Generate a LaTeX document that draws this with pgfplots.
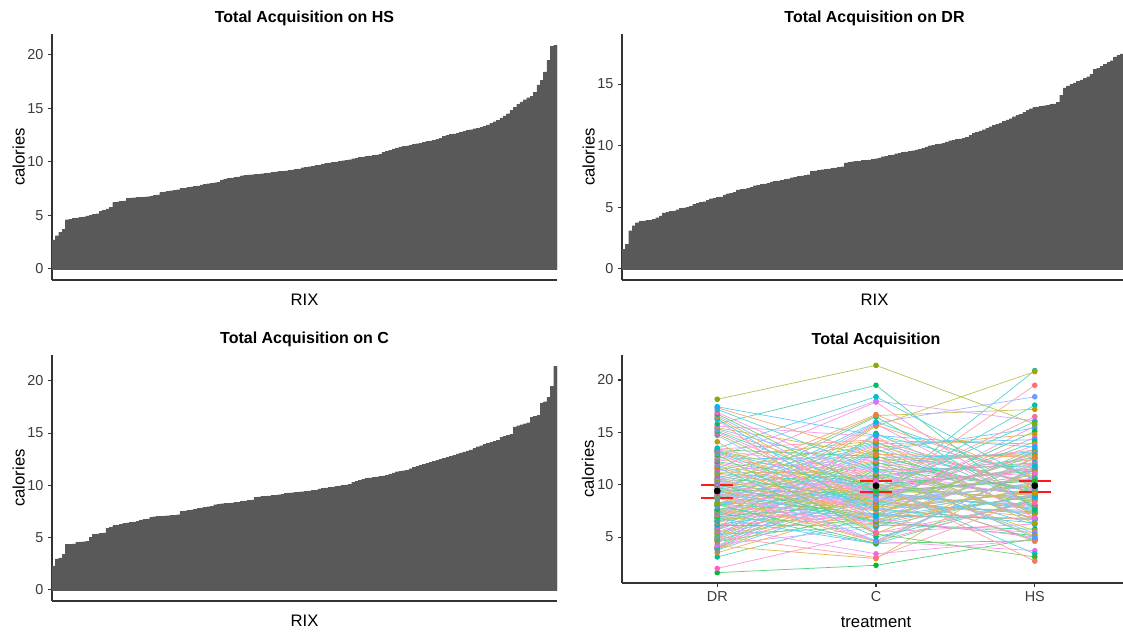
\documentclass[border=0pt]{standalone}
\usepackage{fontspec}
\setmainfont{Liberation Sans}
\usepackage{pgfplots}
\usepackage{pgfplotstable}
\pgfplotsset{compat=1.18}
\definecolor{barfill}{HTML}{595959}
\definecolor{tickgray}{HTML}{3A3A3A}
\definecolor{axgray}{HTML}{333333}
\definecolor{errred}{HTML}{FF1A1A}
% ggplot2 hue palette
\definecolor{hc0}{HTML}{F8766D}
\definecolor{hc1}{HTML}{DE8C00}
\definecolor{hc2}{HTML}{B79F00}
\definecolor{hc3}{HTML}{7CAE00}
\definecolor{hc4}{HTML}{00BA38}
\definecolor{hc5}{HTML}{00C08B}
\definecolor{hc6}{HTML}{00BFC4}
\definecolor{hc7}{HTML}{00B4F0}
\definecolor{hc8}{HTML}{619CFF}
\definecolor{hc9}{HTML}{C77CFF}
\definecolor{hc10}{HTML}{F564E3}
\definecolor{hc11}{HTML}{FF64B0}
\definecolor{hc12}{HTML}{F8766D}

% one row per RIX: DR, C, HS acquisition (calories)
\pgfplotstableread{
d c h
1.6 2.3 4.85
2.0 5.45 6.25
3.1 7.0 6.8
3.5 7.9 7.55
3.75 8.85 8.1
3.85 9.43 8.8
3.9 10.4 9.15
3.92 11.45 9.7
3.95 13.0 10.3
4.0 14.8 11.0
4.15 2.95 11.75
4.3 5.9 12.6
4.55 7.02 13.45
4.6 7.95 15.6
4.65 8.9 20.9
4.7 9.46 4.8
4.8 10.5 6.2
4.9 11.6 6.75
4.95 13.1 7.5
5.0 14.9 8.05
5.1 3.05 8.78
5.25 6.0 9.12
5.3 7.05 9.65
5.4 8.0 10.2
5.45 8.93 10.9
5.55 9.5 11.7
5.7 10.6 12.55
5.75 11.7 13.3
5.8 13.2 15.4
5.85 15.6 20.8
6.0 3.4 4.75
6.1 6.15 5.75
6.15 7.08 6.72
6.2 8.15 7.4
6.4 8.96 8.0
6.45 9.55 8.75
6.5 10.65 9.1
6.55 11.8 9.6
6.6 13.3 10.15
6.75 15.7 10.7
6.8 4.35 11.65
6.85 6.2 12.5
6.9 7.1 13.2
6.95 8.2 15.1
7.05 9.0 19.5
7.1 9.65 4.7
7.15 10.7 5.6
7.2 11.9 6.7
7.25 13.4 7.35
7.3 15.8 7.95
7.4 4.37 8.7
7.45 6.25 9.05
7.5 7.12 9.55
7.55 8.25 10.1
7.6 9.03 10.65
7.65 9.7 11.55
7.9 10.75 12.4
7.95 12.0 13.15
8.0 13.55 14.8
8.05 15.9 18.4
8.1 4.4 4.65
8.12 6.35 5.45
8.15 7.15 6.68
8.2 8.28 7.3
8.25 9.06 7.9
8.3 9.75 8.6
8.6 10.8 9.0
8.65 12.1 9.5
8.7 13.7 10.05
8.72 16.0 10.6
8.75 4.55 11.5
8.8 6.4 12.2
8.82 7.2 13.1
8.85 8.3 14.5
8.9 9.1 17.6
8.95 9.8 4.6
9.0 10.85 5.35
9.1 12.2 6.65
9.15 13.8 7.25
9.2 16.5 7.85
9.25 4.58 8.55
9.35 6.45 8.96
9.4 7.5 9.45
9.45 8.33 10.0
9.5 9.15 10.55
9.55 9.85 11.45
9.6 10.9 12.1
9.65 12.3 13.0
9.7 13.9 14.3
9.8 16.6 17.2
9.9 4.6 3.7
10.0 6.5 5.15
10.05 7.55 6.62
10.1 8.36 7.2
10.15 9.25 7.75
10.2 9.9 8.5
10.3 10.95 8.93
10.4 12.4 9.35
10.45 14.0 9.95
10.5 16.7 10.5
10.55 4.65 11.4
10.6 6.55 12.0
10.7 7.6 12.95
10.85 8.4 14.1
11.0 9.28 16.5
11.1 9.95 3.4
11.2 11.1 5.1
11.3 12.5 6.6
11.4 14.1 7.15
11.55 17.9 7.7
11.65 5.0 8.45
11.75 6.7 8.9
11.85 7.65 9.3
12.0 8.45 9.9
12.1 9.3 10.45
12.2 10.0 11.3
12.35 11.2 11.95
12.45 12.6 12.85
12.55 14.2 13.9
12.7 18.0 16.1
12.85 5.3 3.1
13.0 6.75 5.0
13.1 7.7 6.35
13.15 8.5 6.9
13.2 9.33 7.65
13.25 10.05 8.4
13.3 11.3 8.86
13.35 12.7 9.25
13.4 14.3 9.85
13.5 18.4 10.4
14.1 5.35 11.2
14.7 6.8 11.9
14.85 7.8 12.75
15.0 8.55 13.75
15.1 9.36 16.0
15.25 10.1 2.7
15.35 11.35 4.95
15.45 12.8 6.3
15.6 14.6 6.85
15.8 19.5 7.6
16.2 5.4 8.3
16.3 6.95 8.83
16.45 7.85 9.2
16.6 8.6 9.8
16.75 9.4 10.35
16.9 10.3 11.1
17.2 11.4 11.8
17.35 12.9 12.65
17.45 14.7 13.6
18.16 21.4 15.8
}\data
\pgfplotstablesort[sort key=c, sort cmp=float <]{\Csorted}{\data}
\pgfplotstablesort[sort key=h, sort cmp=float <]{\Hsorted}{\data}

\pgfplotsset{
  panel/.style={
    scale only axis, anchor=south west,
    axis x line*=bottom, axis y line*=left,
    axis line style={axgray, line width=0.8pt},
    tick align=outside, major tick length=3pt,
    tick style={axgray, line width=0.8pt},
    tick label style={font=\fontsize{10.8}{12}\selectfont, text=tickgray},
    label style={font=\fontsize{12.5}{14}\selectfont},
    title style={font=\bfseries\fontsize{12}{14}\selectfont},
    every axis title shift=0pt,
    /pgf/number format/assume math mode=true,
    ylabel={calories},
  },
  barpanel/.style={
    panel, width=378.75pt, height=184.5pt,
    xmin=-0.5, xmax=149.5, xtick=\empty, xlabel={RIX},
    title style={at={(axis description cs:0.5,1.065)}, anchor=center},
    xlabel style={at={(axis description cs:0.5,-0.081)}, anchor=center},
    ylabel style={at={(axis description cs:-0.066,0.5)}, anchor=center},
  },
  bars/.style={ybar, bar width=1, fill=barfill, draw=barfill, line width=0.1pt},
  p4geom/.style={at={(466.5pt,38.25pt)}, width=381pt, height=171pt,
    xmin=-0.6, xmax=2.6, ymin=0.61, ymax=22.39},
  err/.style={errred, line width=1.5pt},
}

\begin{document}
\begin{tikzpicture}
\useasboundingbox (0,0) rectangle (842.25pt,475.5pt);
\clip (0,0) rectangle (842.25pt,475.5pt);

% HS
\begin{axis}[barpanel, at={(39pt,265.5pt)},
  ymin=-1.045, ymax=21.945, ytick={0,5,10,15,20},
  title={Total Acquisition on HS}]
\addplot[bars] table[x expr=\coordindex, y=h]{\Hsorted};
\end{axis}

% DR
\begin{axis}[barpanel, at={(466.5pt,265.5pt)},
  ymin=-0.908, ymax=19.068, ytick={0,5,10,15},
  title={Total Acquisition on DR}]
\addplot[bars] table[x expr=\coordindex, y=d]{\data};
\end{axis}

% C
\begin{axis}[barpanel, at={(39pt,24.75pt)},
  ymin=-1.07, ymax=22.47, ytick={0,5,10,15,20},
  title={Total Acquisition on C}]
\addplot[bars] table[x expr=\coordindex, y=c]{\Csorted};
\end{axis}

% all treatments
\begin{axis}[panel, p4geom,
  xtick={0,1,2}, xticklabels={DR,C,HS}, ytick={5,10,15,20},
  xlabel={treatment}, title={Total Acquisition},
  title style={at={(axis description cs:0.5,1.066)}, anchor=center},
  xlabel style={at={(axis description cs:0.5,-0.171)}, anchor=center},
  ylabel style={at={(axis description cs:-0.067,0.5)}, anchor=center}]
\pgfplotsforeachungrouped \i in {0,...,149}{%
  \pgfplotstablegetelem{\i}{d}\of\data \let\vd=\pgfplotsretval
  \pgfplotstablegetelem{\i}{c}\of\data \let\vc=\pgfplotsretval
  \pgfplotstablegetelem{\i}{h}\of\data \let\vh=\pgfplotsretval
  \pgfmathtruncatemacro\k{mod(\i*7+3,12)}%
  \pgfmathtruncatemacro\kk{\k+1}%
  \pgfmathtruncatemacro\fr{mod(\i*37,100)}%
  \colorlet{rix\i}{hc\k!\fr!hc\kk}%
  \edef\tmp{\noexpand\addplot[color=rix\i!65!white, line width=0.55pt,
    mark=*, mark size=1.8pt, mark options={draw=rix\i, fill=rix\i},
    forget plot] coordinates {(0,\vd) (1,\vc) (2,\vh)};}%
  \tmp
}
% error bars and means
\addplot[err] coordinates {(-0.1,9.95) (0.1,9.95)};
\addplot[err] coordinates {(-0.1,8.75) (0.1,8.75)};
\addplot[err] coordinates {(0,8.75) (0,9.95)};
\addplot[err] coordinates {(0.9,10.35) (1.1,10.35)};
\addplot[err] coordinates {(0.9,9.35) (1.1,9.35)};
\addplot[err] coordinates {(1,9.35) (1,10.35)};
\addplot[err] coordinates {(1.9,10.35) (2.1,10.35)};
\addplot[err] coordinates {(1.9,9.35) (2.1,9.35)};
\addplot[err] coordinates {(2,9.35) (2,10.35)};
\addplot[only marks, mark=*, mark size=2.3pt, black]
  coordinates {(0,9.4) (1,9.9) (2,9.9)};
\end{axis}
\end{tikzpicture}
\end{document}
